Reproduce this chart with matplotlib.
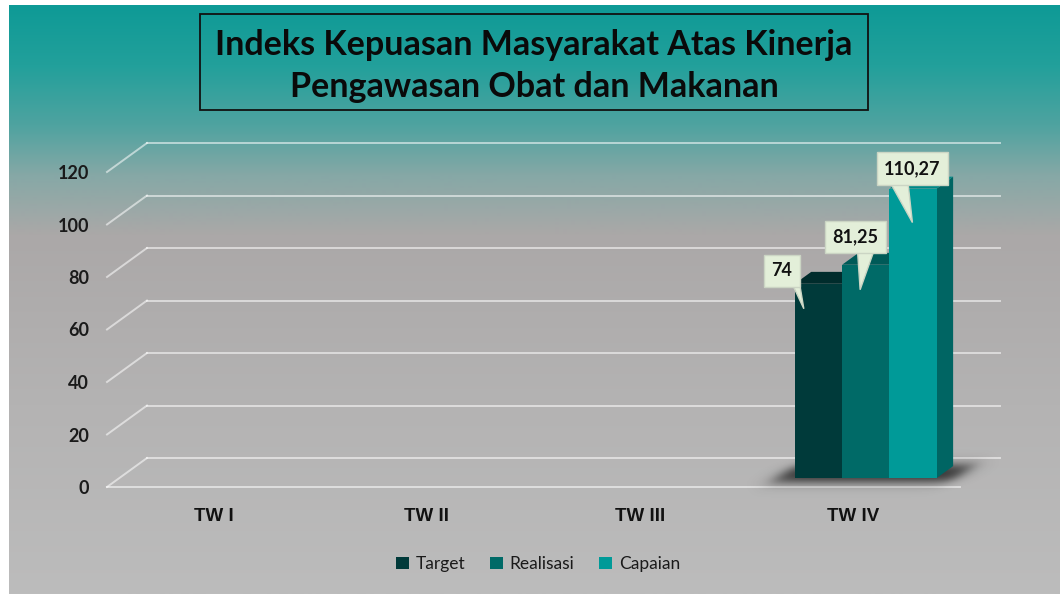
import numpy as np
import matplotlib
matplotlib.use("Agg")
import matplotlib.pyplot as plt
from matplotlib.patches import Polygon, Patch, Rectangle
from matplotlib.transforms import IdentityTransform
from matplotlib.colors import to_rgb

# data
categories = ["TW I", "TW II", "TW III", "TW IV"]
series_names = ["Target", "Realisasi", "Capaian"]
target = [np.nan, np.nan, np.nan, 74]
realisasi = [np.nan, np.nan, np.nan, 81.25]
capaian = [np.nan, np.nan, np.nan, 110.27]
value_labels = ["74", "81,25", "110,27"]
yticks = [0, 20, 40, 60, 80, 100, 120]

series = [target, realisasi, capaian]
front_colors = ["#003a3a", "#006a67", "#009a98"]
top_colors = ["#002c2c", "#005a58", "#008886"]
side_colors = ["#002a2a", "#004f4d", "#006563"]

W, H = 1060, 594
fig = plt.figure(figsize=(W / 100, H / 100), dpi=100, facecolor="white")

# background gradient (chart area)
bg = fig.add_axes([9 / W, 0, 1 - 9 / W, 1 - 5 / H])
bg.set_axis_off()
stops_y = [0, 60, 120, 170, 230, 400, 589]
stops_c = ["#0e9a96", "#22a09b", "#4fa3a0", "#86a8a6", "#aba8a8", "#b4b3b3", "#bcbcbc"]
yy = np.arange(590)
rgb = np.array([to_rgb(c) for c in stops_c])
grad = np.stack([np.interp(yy, stops_y, rgb[:, k]) for k in range(3)], axis=-1)
bg.imshow(grad[:, None, :], aspect="auto", extent=[0, 1, 0, 1])
bg.set_xlim(0, 1)
bg.set_ylim(0, 1)

# main axes = front plane of the 3D box
ax = fig.add_axes([107 / W, (H - 487) / H, (960 - 107) / W, (487 - 172) / H])
ax.set_xlim(-0.5, 3.5)
ax.set_ylim(0, 120)
ax.patch.set_alpha(0)
for s in ax.spines.values():
    s.set_visible(False)

px_x = (960 - 107) / 4.0          # pixels per category
px_y = (487 - 172) / 120.0        # pixels per value unit
DX = 40 / px_x                    # depth offset of back wall
DY = 29 / px_y

grid_kw = dict(color="white", alpha=0.55, lw=1.4, zorder=1, clip_on=False)
for v in yticks:
    ax.plot([-0.5 + DX, 3.5 + DX], [v + DY, v + DY], **grid_kw)
    ax.plot([-0.5, -0.5 + DX], [v, v + DY], **grid_kw)
ax.plot([-0.5, 3.5], [0, 0], **grid_kw)

# bars
bw = 47.3 / px_x
f0, fd = 0.31, 0.41
ox, oy = f0 * DX, f0 * DY
dx, dy = fd * DX, fd * DY


def sig(z):
    return 1.0 / (1.0 + np.exp(-z))


# soft shadow under each bar group
for i in range(len(categories)):
    vals = [s[i] for s in series]
    if np.all(np.isnan(vals)):
        continue
    gl = i - 1.5 * bw + ox
    u = np.linspace(-50, 3 * 47.3 + 70, 280)       # px, from group left
    v = np.linspace(-20, 30, 100)                  # px, from bar base
    U, V = np.meshgrid(u, v)
    S = U - V * (20.0 / 15.0)
    sg = 5.5
    a = (sig((S + 18) / sg) * sig((3 * 47.3 + 20 - S) / sg) *
         sig((V + 4) / 3.0) * sig((13 - V) / 3.0))
    img = np.zeros(a.shape + (4,))
    img[..., 3] = 0.75 * a
    ax.imshow(img, origin="lower", aspect="auto", zorder=2, interpolation="bilinear",
              extent=[gl + u[0] / px_x, gl + u[-1] / px_x, oy + v[0] / px_y, oy + v[-1] / px_y],
              clip_on=False)

for j, s in enumerate(series):
    for i, v in enumerate(s):
        if np.isnan(v):
            continue
        x0 = i - 1.5 * bw + j * bw + ox
        y0 = oy
        side = [(x0 + bw, y0), (x0 + bw + dx, y0 + dy), (x0 + bw + dx, y0 + v + dy), (x0 + bw, y0 + v)]
        top = [(x0, y0 + v), (x0 + bw, y0 + v), (x0 + bw + dx, y0 + v + dy), (x0 + dx, y0 + v + dy)]
        ax.add_patch(Polygon(side, closed=True, fc=side_colors[j], ec="none", zorder=3 + j, clip_on=False))
        ax.add_patch(Polygon(top, closed=True, fc=top_colors[j], ec="none", zorder=3 + j, clip_on=False))
        ax.add_patch(Rectangle((x0, y0), bw, v, fc=front_colors[j], ec="none", zorder=3 + j, clip_on=False))

# callout labels: tip inside bar (px from bar top-left), box centre and pointer base (px from tip)
tips = [(9, 25), (18, 25), (23, 34)]
text_off = [(-22, 38), (-5, 53), (0, 54)]
pointer_base = [((-14, 30), (-5, 30)), ((-3, 45), (16, 45)), ((-25, 45), (-5, 45))]
callout_fc, callout_ec = "#e3efd9", "#cbd5c4"
for j, s in enumerate(series):
    i = 3
    v = s[i]
    x0 = i - 1.5 * bw + j * bw + ox
    tip = (x0 + tips[j][0] / px_x, oy + v - tips[j][1] / px_y)
    tx, ty = ax.transData.transform(tip)
    (b1x, b1y), (b2x, b2y) = pointer_base[j]
    tri = [(tx + b1x, ty + b1y), (tx + b2x, ty + b2y), (tx, ty)]
    ax.add_patch(Polygon(tri, closed=True, fc=callout_fc, ec=callout_ec, lw=1,
                         transform=IdentityTransform(), zorder=9, clip_on=False))
    ax.annotate(value_labels[j], xy=tip, xytext=text_off[j], textcoords="offset pixels",
                ha="center", va="center", fontsize=13, fontweight="bold",
                family=["Lato", "DejaVu Sans"], color="#111111", zorder=10,
                bbox=dict(boxstyle="square,pad=0.42", fc=callout_fc, ec=callout_ec, lw=1))

# ticks
ax.set_yticks(yticks)
ax.set_yticklabels([str(t) for t in yticks], fontsize=13, fontweight="bold",
                   family=["Lato", "DejaVu Sans"], color="#1a1a1a")
ax.set_xticks(range(len(categories)))
ax.set_xticklabels(categories, fontsize=13.5, fontweight="bold",
                   family=["Liberation Sans Narrow", "Liberation Sans"], color="#111111")
ax.tick_params(axis="y", length=0, pad=13)
ax.tick_params(axis="x", length=0, pad=15)

# title box
fig.patches.append(Rectangle((200 / W, 1 - 110 / H), 668 / W, 96 / H, transform=fig.transFigure,
                             fc="none", ec="#111111", lw=1.3))
fig.text(534 / W, 1 - 45 / H, "Indeks Kepuasan Masyarakat Atas Kinerja", ha="center", va="center",
         fontsize=24.5, fontweight="bold", family=["Lato", "DejaVu Sans"], color="#0a0a0a")
fig.text(534 / W, 1 - 87 / H, "Pengawasan Obat dan Makanan", ha="center", va="center",
         fontsize=24.5, fontweight="bold", family=["Lato", "DejaVu Sans"], color="#0a0a0a")

# legend
handles = [Patch(fc=c, ec="none") for c in front_colors]
fig.legend(handles, series_names, loc="center", bbox_to_anchor=(538 / W, 1 - 564 / H),
           ncol=3, frameon=False, prop=dict(family=["Lato", "DejaVu Sans"], size=12.5),
           handlelength=0.75, handleheight=0.75, handletextpad=0.4, columnspacing=1.4,
           labelcolor="#1a1a1a")

fig.savefig("out.png", dpi=100, facecolor="white")
